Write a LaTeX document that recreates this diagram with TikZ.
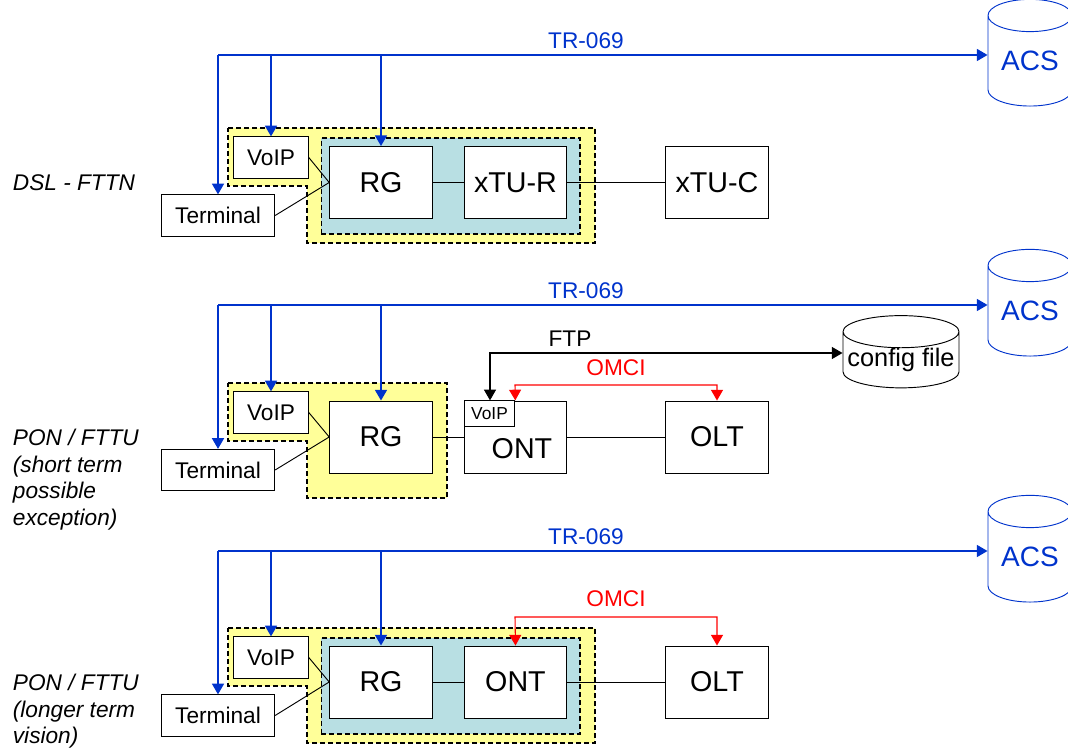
\documentclass[tikz,border=0pt]{standalone}
\usepackage{fontspec}
\setmainfont{Liberation Sans}
\usepackage{xcolor}
\usetikzlibrary{arrows.meta,shapes.geometric}
\definecolor{trblue}{HTML}{0033CC}
\definecolor{homeyellow}{HTML}{FFFF99}
\definecolor{cpeteal}{HTML}{B8DFE3}
\tikzset{
  cell/.style    ={draw,fill=white,inner sep=0pt,minimum width=77pt,minimum height=54pt,font=\fontsize{21.5}{24}\selectfont},
  small/.style   ={draw,fill=white,inner sep=0pt,font=\fontsize{17}{19}\selectfont},
  voip/.style    ={small,minimum width=56pt,minimum height=31pt},
  term/.style    ={small,minimum width=85pt,minimum height=31pt},
  inner/.style   ={draw,fill=cpeteal,dash pattern=on 3.75pt off 2.25pt,line width=1pt,inner sep=0pt,minimum width=194pt,minimum height=72pt},
  home/.style    ={draw,fill=homeyellow,dash pattern=on 3.75pt off 2.25pt,line width=1pt},
  acs/.style     ={cylinder,shape border rotate=90,aspect=0.56,draw=trblue,text=trblue,inner sep=0pt,minimum width=63pt,minimum height=80pt,font=\fontsize{21}{24}\selectfont},
  store/.style   ={cylinder,shape border rotate=90,aspect=0.3,draw,fill=white,inner sep=0pt,minimum width=87pt,minimum height=50pt,font=\fontsize{19}{22}\selectfont},
  tip/.style     ={>={Triangle[length=8pt,width=9pt]}},
  trvec/.style   ={tip,->,trblue,line width=1.1pt},
  omci/.style    ={tip,<->,red,line width=0.8pt},
  ftp/.style     ={tip,<->,line width=0.8pt},
  lbl/.style     ={font=\fontsize{17}{19}\selectfont},
  side/.style    ={font=\fontsize{17}{20}\selectfont\itshape,align=left,anchor=north west},
}
\begin{document}
\begin{tikzpicture}[x=0.75pt,y=-0.75pt,line width=0.7pt]
  \useasboundingbox (0,0) rectangle (1068,748);

  % DSL - FTTN
  \node[side] (SA) at (8,170) {DSL - FTTN};
  \draw[home] (228,128) -- (595,128) -- (595,243) -- (307,243) -- (307,186) -- (228,186) -- cycle;
  \node[inner] (IA) at (450.5,186) {};
  \node[cell] (RGa) at (381,182.5) {RG};
  \node[cell] (XRa) at (515.5,182.5) {xTU-R};
  \node[cell] (XCa) at (717,182.5) {xTU-C};
  \node[voip] (VPa) at (271,157.5) {VoIP};
  \node[term] (TMa) at (218,215.5) {Terminal};
  \node[acs] (ACSa) at (1030,61) {ACS};
  \coordinate (BUSa) at (218,55);
  \draw (RGa.east) -- (XRa.west);
  \draw (XRa.east) -- (XCa.west);
  \draw (VPa.east) -- (RGa.west);
  \draw (TMa.east) -- (RGa.west);
  \draw[trvec] (BUSa) -- (BUSa -| ACSa.west);
  \draw[trvec] (BUSa) -- (TMa.north);
  \draw[trvec] (VPa.north |- BUSa) -- (VPa.north);
  \draw[trvec] (RGa.north |- BUSa) -- (RGa.north);
  \node[lbl,text=trblue] (TRa) at (586,41) {TR-069};

  % PON / FTTU, short term
  \node[side] (SB) at (8,424) {PON / FTTU\\(short term\\possible\\exception)};
  \draw[home] (228,383) -- (447,383) -- (447,498) -- (307,498) -- (307,441) -- (228,441) -- cycle;
  \node[cell] (RGb) at (381,437) {RG};
  \node[cell] (ONb) at (515.5,437) {};
  \node[cell,draw=none,fill=none] (ONTb) at (522,449) {ONT};
  \node[draw,fill=white,inner sep=0pt,minimum width=38pt,minimum height=19pt,font=\fontsize{13}{15}\selectfont] (VOb) at (489.5,413.5) {VoIP};
  \node[cell] (OLb) at (717,437) {OLT};
  \node[voip] (VPb) at (271,412.5) {VoIP};
  \node[term] (TMb) at (218,470) {Terminal};
  \node[acs] (ACSb) at (1030,311) {ACS};
  \node[store] (CFb) at (901,360) {config file};
  \coordinate (BUSb) at (218,305);
  \draw (RGb.east) -- (ONb.west);
  \draw (ONb.east) -- (OLb.west);
  \draw (VPb.east) -- (RGb.west);
  \draw (TMb.east) -- (RGb.west);
  \draw[trvec] (BUSb) -- (BUSb -| ACSb.west);
  \draw[trvec] (BUSb) -- (TMb.north);
  \draw[trvec] (VPb.north |- BUSb) -- (VPb.north);
  \draw[trvec] (RGb.north |- BUSb) -- (RGb.north);
  \node[lbl,text=trblue] (TRb) at (586,291) {TR-069};
  \coordinate (FTPb) at (490,353);
  \draw[ftp] (VOb.north -| FTPb) -- (FTPb) -- (FTPb -| CFb.west);
  \node[lbl] (FTb) at (570,339) {FTP};
  \coordinate (OMb) at (515,385);
  \draw[omci] (VOb.north east) -- (OMb) -- (OMb -| OLb.north) -- (OLb.north);
  \node[lbl,text=red] (OTb) at (616,368) {OMCI};

  % PON / FTTU, longer term
  \node[side] (SC) at (8,669) {PON / FTTU\\(longer term\\vision)};
  \draw[home] (228,628) -- (595,628) -- (595,743) -- (307,743) -- (307,686) -- (228,686) -- cycle;
  \node[inner] (IC) at (450.5,686) {};
  \node[cell] (RGc) at (381,682) {RG};
  \node[cell] (ONc) at (515.5,682) {ONT};
  \node[cell] (OLc) at (717,682) {OLT};
  \node[voip] (VPc) at (271,657.5) {VoIP};
  \node[term] (TMc) at (218,715.5) {Terminal};
  \node[acs] (ACSc) at (1030,557) {ACS};
  \coordinate (BUSc) at (218,551);
  \draw (RGc.east) -- (ONc.west);
  \draw (ONc.east) -- (OLc.west);
  \draw (VPc.east) -- (RGc.west);
  \draw (TMc.east) -- (RGc.west);
  \draw[trvec] (BUSc) -- (BUSc -| ACSc.west);
  \draw[trvec] (BUSc) -- (TMc.north);
  \draw[trvec] (VPc.north |- BUSc) -- (VPc.north);
  \draw[trvec] (RGc.north |- BUSc) -- (RGc.north);
  \node[lbl,text=trblue] (TRc) at (586,537) {TR-069};
  \coordinate (OMc) at (515,617);
  \draw[omci] (ONc.north) -- (OMc) -- (OMc -| OLc.north) -- (OLc.north);
  \node[lbl,text=red] (OTc) at (616,599) {OMCI};
\end{tikzpicture}
\end{document}
